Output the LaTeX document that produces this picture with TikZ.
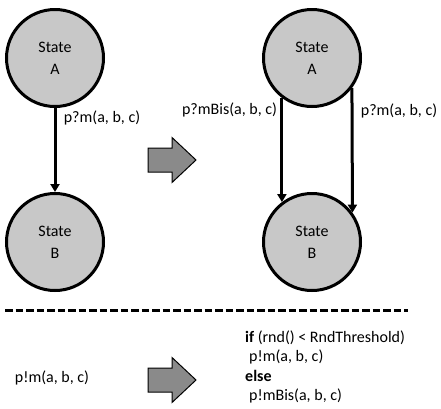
\documentclass[tikz,border=0pt]{standalone}
\usepackage{fontspec}
\setmainfont{Carlito}
\usepackage{tikz}
\usetikzlibrary{positioning, arrows.meta}
\usepackage{xcolor}
\definecolor{stategray}{RGB}{200,200,200}
\definecolor{blockgray}{RGB}{138,138,138}

\begin{document}
\begin{tikzpicture}[
    x=1pt, y=-1pt,
    >={Triangle[length=8pt, width=9pt]},
    font=\fontsize{16}{19.5}\selectfont,
    state/.style={circle, draw, line width=3pt, fill=stategray, minimum size=97pt,
        inner sep=0pt, align=center, font=\fontsize{16}{22}\selectfont},
    flow/.style={->, line width=3pt},
    blockarrow/.style={draw, line width=1pt, fill=blockgray, line join=miter}
]
    \useasboundingbox (0,0) rectangle (441,408);

    % Before: one receive transition from A to B
    \node[state] (lA) at (55,58) {State\\A};
    \node[state] (lB) at (55,242) {State\\B};
    \path[flow]
        (lA) edge node[pos=0.12, right=4pt] {p?m(a, b, c)} (lB);

    % After: the transition is doubled
    \node[state] (rA) at (312,58) {State\\A};
    \node[state] (rB) at (312,242) {State\\B};
    \path[flow]
        (rA.233) edge node[pos=0.12, left] {p?mBis(a, b, c)} (rB.127)
        (rA.323.5) edge node[pos=0.18, right=4pt] {p?m(a, b, c)} (rB.36.5);

    % Block arrows
    \draw[blockarrow, shift={(148,160)}] (0,-12) -- (24,-12) -- (24,-22.5) -- (48,0)
        -- (24,22.5) -- (24,12) -- (0,12) -- cycle;
    \draw[blockarrow, shift={(148,380)}] (0,-12) -- (24,-12) -- (24,-22.5) -- (48,0)
        -- (24,22.5) -- (24,12) -- (0,12) -- cycle;

    % Separator
    \coordinate (sepL) at (5,310);
    \coordinate (sepR) at (408,310);
    \draw[line width=3pt, dash pattern=on 7.5pt off 3pt] (sepL) -- (sepR);

    % Send side
    \node (send) at (52,378) {p!m(a, b, c)};
    \node[align=left, anchor=west, inner sep=0pt] (code) at (245,367)
        {\textbf{if} (rnd() < RndThreshold)\\
         \hspace*{0.25em}p!m(a, b, c)\\
         \textbf{else}\\
         \hspace*{0.25em}p!mBis(a, b, c)};
\end{tikzpicture}
\end{document}
